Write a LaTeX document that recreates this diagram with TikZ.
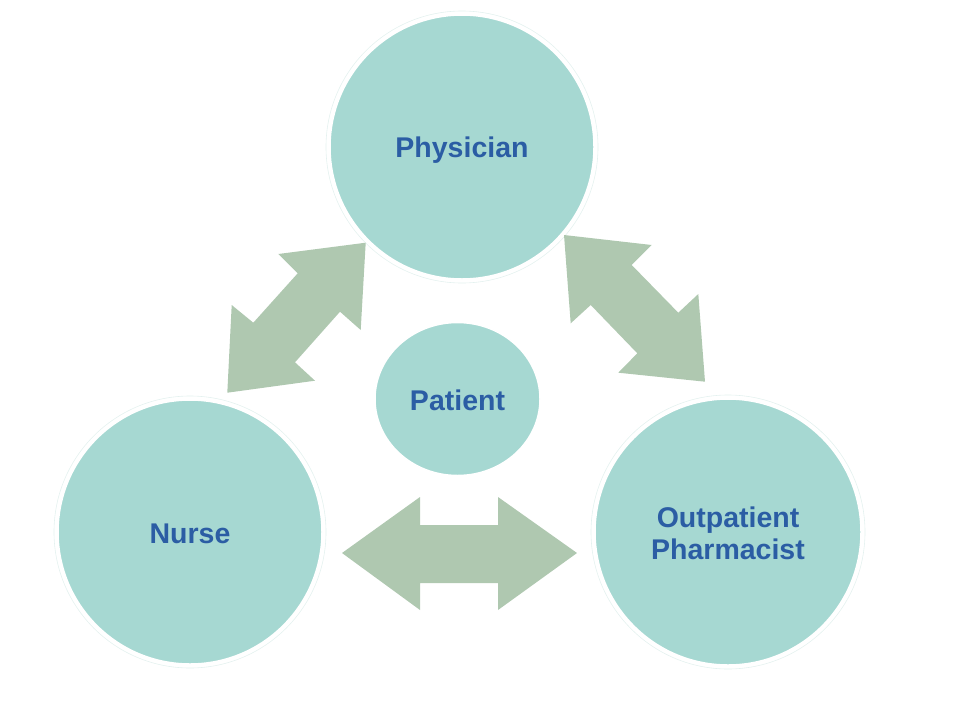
\documentclass[tikz,border=0pt]{standalone}
\usepackage{fontspec}
\setmainfont{Liberation Sans}
\usetikzlibrary{shapes.geometric}
\definecolor{circfill}{HTML}{A6D8D2}
\definecolor{arrfill}{HTML}{AFC8B0}
\definecolor{txtblue}{HTML}{2B5DA4}
\definecolor{ringc}{HTML}{E4F1EF}
\begin{document}
\begin{tikzpicture}[x=1pt,y=-1pt,
  role/.style={circle,fill=circfill,draw=white,line width=1.5pt,inner sep=0pt},
  roletext/.style={font=\fontsize{28.5}{32}\selectfont\bfseries,text=txtblue,align=center,inner sep=0pt},
  ring/.style={draw=ringc,line width=0.6pt},
  blockarrow/.style={fill=arrfill,draw=none}]
\useasboundingbox (0,0) rectangle (960,720);
% faint outer rings
\draw[ring] (462,147) circle (136);
\draw[ring] (190,532) circle (136);
\draw[ring] (728,532) circle (137);
% circles
\node[role,minimum size=264pt] (phys) at (462,147) {};
\node[role,minimum size=264pt] (nurse) at (190,532) {};
\node[role,minimum size=266pt] (pharm) at (728,532) {};
\node[role,ellipse,minimum width=165pt,minimum height=153pt] (pat) at (457.5,399) {};
% texts
\node[roletext] (physt) at (462,150) {Physician};
\node[roletext] (nurset) at (190,533.5) {Nurse};
\node[roletext] (pharmt) at (728,533) {Outpatient\\[0pt]Pharmacist};
\node[roletext] (patt) at (457.5,400.5) {Patient};
% block arrows
\fill[blockarrow] (365.7,242.7) -- (278.3,254) -- (297.7,273.3) -- (253.3,322.7)
  -- (231.7,305) -- (227.3,392.7) -- (315,380.7) -- (295,362.3) -- (340,311.7)
  -- (360.7,330) -- cycle;
\fill[blockarrow] (564,235) -- (651.7,245) -- (631.7,265) -- (678.3,312.7)
  -- (698.3,294) -- (705,381.7) -- (618.3,372.7) -- (637.3,353.3) -- (590.7,305)
  -- (570.7,323.3) -- cycle;
\fill[blockarrow] (342,553) -- (420,497) -- (420,525) -- (498,525) -- (498,497)
  -- (577,553) -- (498,610) -- (498,583) -- (420,583) -- (420,610) -- cycle;
\end{tikzpicture}
\end{document}
